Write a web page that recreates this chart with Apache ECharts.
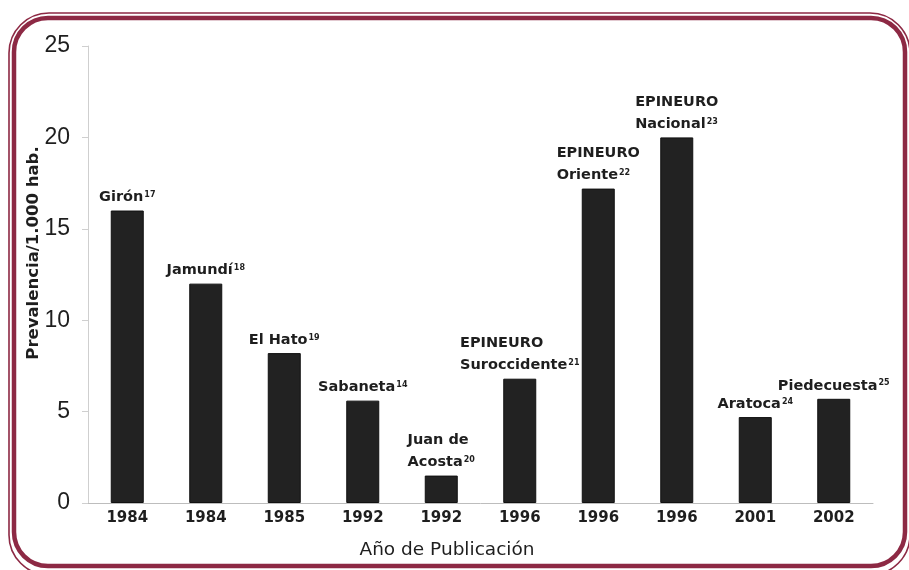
<!DOCTYPE html>
<html>
<head>
<meta charset="utf-8">
<script src="https://cdn.jsdelivr.net/npm/echarts@6/dist/echarts.min.js"></script>
<style>
html,body{margin:0;padding:0;background:#fff;}
#c{width:909px;height:570px;}
</style>
</head>
<body>
<div id="c"></div>
<script>
const years = ['1984','1984','1985','1992','1992','1996','1996','1996','2001','2002'];
const values = [16, 12, 8.2, 5.6, 1.5, 6.8, 17.2, 20, 4.7, 5.7];
const places = [['Girón'],['Jamundí'],['El Hato'],['Sabaneta'],['Juan de','Acosta'],['EPINEURO','Suroccidente'],['EPINEURO','Oriente'],['EPINEURO','Nacional'],['Aratoca'],['Piedecuesta']];
const refs = ['17','18','19','14','20','21','22','23','24','25'];
const yTicks = [0, 5, 10, 15, 20, 25];

const maroon = '#8d2944';
const chart = echarts.init(document.getElementById('c'));
chart.setOption({
  backgroundColor: '#fff',
  animation: false,
  grid: {left: 88, right: 36, top: 46, bottom: 67},
  xAxis: {
    type: 'category',
    data: years,
    axisLine: {lineStyle: {color: '#bdbdbd', width: 1}},
    axisTick: {show: false},
    axisLabel: {
      interval: 0, margin: 8,
      fontFamily: 'DejaVu Sans', fontWeight: 'bold', fontSize: 15, color: '#1e1e1e'
    }
  },
  yAxis: {
    type: 'value',
    min: yTicks[0], max: yTicks[yTicks.length - 1], interval: 5,
    splitLine: {show: false},
    axisLine: {show: true, lineStyle: {color: '#cfcfcf', width: 1}},
    axisTick: {show: true, length: 6, lineStyle: {color: '#cfcfcf'}},
    axisLabel: {
      margin: 18,
      fontFamily: 'Liberation Sans', fontSize: 23, color: '#1e1e1e'
    }
  },
  series: [{
    type: 'bar',
    data: values,
    barWidth: 33,
    itemStyle: {color: '#222222', borderColor: '#111', borderWidth: 1},
    label: {
      show: true,
      position: 'top',
      distance: 2,
      formatter: function (p) {
        const lines = places[p.dataIndex];
        return lines.map(function (l, i) {
          return i === lines.length - 1 ? '{t|' + l + '}{s|' + refs[p.dataIndex] + '}' : '{t|' + l + '}';
        }).join('\n');
      },
      rich: {
        t: {fontFamily: 'DejaVu Sans', fontWeight: 'bold', fontSize: 14.5, color: '#1e1e1e', lineHeight: 22, align: 'left'},
        s: {fontFamily: 'DejaVu Sans', fontWeight: 'bold', fontSize: 8, color: '#1e1e1e', lineHeight: 12, verticalAlign: 'middle', align: 'left', padding: [0, 0, 5, 1]}
      }
    }
  }],
  graphic: [
    {type: 'rect', silent: true, z: 100,
      shape: {x: 9, y: 13, width: 901, height: 562, r: 40},
      style: {fill: 'none', stroke: maroon, lineWidth: 1.6}},
    {type: 'rect', silent: true, z: 100,
      shape: {x: 14, y: 18, width: 891, height: 548, r: 34},
      style: {fill: 'none', stroke: maroon, lineWidth: 4.5}},
    {type: 'text', silent: true,
      x: 34, y: 253, rotation: Math.PI / 2,
      style: {text: 'Prevalencia/1.000 hab.', fontFamily: 'DejaVu Sans', fontWeight: 'bold', fontSize: 16.5, fill: '#1e1e1e', align: 'center', verticalAlign: 'middle'}},
    {type: 'text', silent: true,
      x: 447, y: 550,
      style: {text: 'Año de Publicación', fontFamily: 'DejaVu Sans', fontSize: 18.5, fill: '#1e1e1e', align: 'center', verticalAlign: 'middle'}}
  ]
});
</script>
</body>
</html>
